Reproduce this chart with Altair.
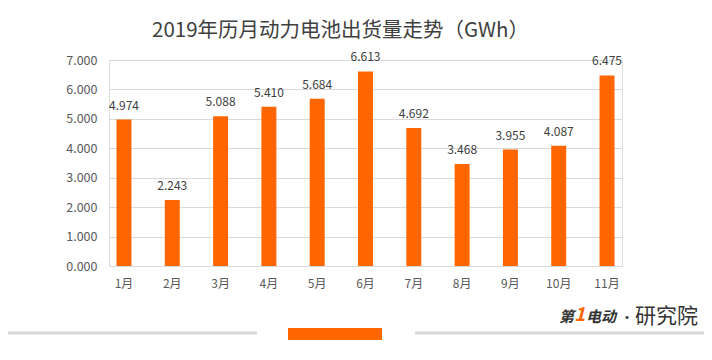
import altair as alt
import pandas as pd

months = ["1月", "2月", "3月", "4月", "5月", "6月", "7月", "8月", "9月", "10月", "11月"]
values = [4.974, 2.243, 5.088, 5.410, 5.684, 6.613, 4.692, 3.468, 3.955, 4.087, 6.475]
y_ticks = [0, 1, 2, 3, 4, 5, 6, 7]

df = pd.DataFrame({"month": months, "value": values})
df["label"] = [f"{v:.3f}" for v in values]

FONT = "Noto Sans CJK SC"
ORANGE = "#FF6600"

W, H = 513, 206

x_enc = alt.X("month:N", sort=months, title=None,
              scale=alt.Scale(paddingInner=0.69, paddingOuter=0.155),
              axis=alt.Axis(labelAngle=0, labelFont=FONT, labelFontSize=12,
                            labelColor="#595959", domain=False, ticks=False,
                            labelPadding=12))
y_enc = alt.Y("value:Q", title=None,
              scale=alt.Scale(domain=[0, 7]),
              axis=alt.Axis(values=y_ticks, tickCount=8, format=".3f", labelFont=FONT,
                            labelFontSize=12.5, labelColor="#595959",
                            labelOverlap=False, labelFlush=False,
                            domain=False, ticks=False, labelPadding=12,
                            gridColor="#d9d9d9", gridWidth=1))

base = alt.Chart(df)

bars = base.mark_bar(color=ORANGE).encode(x=x_enc, y=y_enc)

labels = base.mark_text(font=FONT, fontSize=12, color="#404040",
                        baseline="alphabetic", dy=-10).encode(
    x=x_enc, y=y_enc, text="label:N",
)

# bottom decoration
line_left = alt.Chart().mark_rule(color="#d9d9d9", strokeWidth=3).encode(
    x=alt.value(-101), x2=alt.value(148), y=alt.value(273))
line_right = alt.Chart().mark_rule(color="#d9d9d9", strokeWidth=3).encode(
    x=alt.value(306), x2=alt.value(600), y=alt.value(273))
orange_rect = alt.Chart().mark_rect(color=ORANGE).encode(
    x=alt.value(179), x2=alt.value(273), y=alt.value(268), y2=alt.value(280))

logo1 = alt.Chart().mark_text(text="第", font=FONT, fontSize=15, fontWeight="bold",
                              fontStyle="italic", color="#333333", align="left",
                              baseline="middle").encode(x=alt.value(450), y=alt.value(257))
logo2 = alt.Chart().mark_text(text="1", font=FONT, fontSize=19, fontWeight="bold",
                              fontStyle="italic", color=ORANGE, align="left",
                              baseline="middle").encode(x=alt.value(465), y=alt.value(255))
logo3 = alt.Chart().mark_text(text="电动", font=FONT, fontSize=15, fontWeight="bold",
                              fontStyle="italic", color="#333333", align="left",
                              baseline="middle").encode(x=alt.value(477), y=alt.value(257))
logo4 = alt.Chart().mark_text(text="•", font=FONT, fontSize=14,
                              color="#333333", align="center",
                              baseline="middle").encode(x=alt.value(518), y=alt.value(258))
logo5 = alt.Chart().mark_text(text="研究院", font=FONT, fontSize=21,
                              color="#333333", align="left",
                              baseline="middle").encode(x=alt.value(526), y=alt.value(257))

chart = alt.layer(bars, labels, line_left, line_right, orange_rect,
                  logo1, logo2, logo3, logo4, logo5).properties(
    width=W, height=H,
    title=alt.TitleParams("2019年历月动力电池出货量走势（GWh）", font=FONT,
                          fontSize=20.5, fontWeight="normal", color="#404040",
                          anchor="middle", dx=-25, offset=10),
    autosize=alt.AutoSizeParams(type="none"),
    padding={"left": 101, "top": 52, "right": 82, "bottom": 86},
).configure_view(stroke=None).configure(background="white")

chart.save("out.html", embed_options={"renderer": "svg", "actions": False})
